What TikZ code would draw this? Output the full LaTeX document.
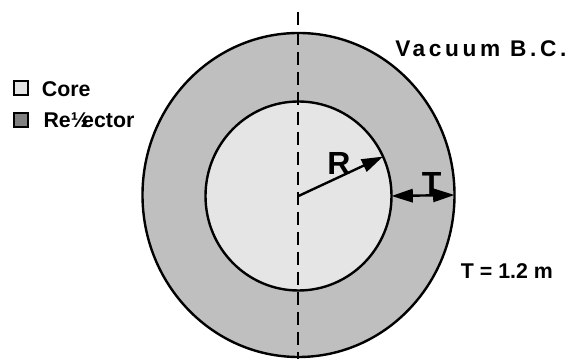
\documentclass[tikz,border=0pt]{standalone}
\usepackage{fontspec}
\setmainfont{Liberation Sans}
\usetikzlibrary{arrows.meta,shapes.geometric}
\definecolor{corefill}{gray}{0.9}
\definecolor{reflfill}{gray}{0.75}
\definecolor{refldark}{gray}{0.5}

\begin{document}
\begin{tikzpicture}[
  x=0.75pt, y=-0.75pt,
  every node/.style={font=\bfseries\fontsize{16}{19}\selectfont, inner sep=0pt},
  region/.style={draw, ellipse, line width=1.8pt, outer sep=0pt},
  swatch/.style={draw, line width=1.5pt, minimum size=10.5pt},
  >={Triangle[length=16pt,width=10pt]},
  arr/.style={->, line width=1.8pt},
  dimlabel/.style={font=\bfseries\fontsize{24}{28}\selectfont},
]
  \useasboundingbox (0,0) rectangle (568,359);

  % Reflector and core regions
  \node[region, fill=reflfill, minimum width=234pt, minimum height=243pt] (refl) at (298.5,195) {};
  \node[region, fill=corefill, minimum width=139.5pt, minimum height=141.75pt] (core) at (298.5,196) {};

  % Symmetry axis
  \coordinate (axtop) at (298,12);
  \coordinate (axbot) at (298,359);
  \draw[line width=1.8pt, dash pattern=on 10pt off 5pt] (axtop) -- (axbot);

  % Radius and reflector thickness
  \draw[arr] (core.center) -- (core.25);
  \draw[arr, <->] (core.east) -- (refl.east);
  \node[dimlabel, anchor=base west] (rlab) at (327,175) {R};
  \node[dimlabel, anchor=base] (tlab) at (431.7,195) {T};

  % Legend
  \node[swatch, fill=corefill] (corebox) at (20.5,88.3) {};
  \node[swatch, fill=refldark] (reflbox) at (20.5,120) {};
  \node[anchor=base west] (corelab) at (41.7,97) {Core};
  \node[anchor=base west] (refllab) at (43.3,128) {Re½\kern-0.3em ector};

  % Boundary condition and thickness value
  \node[anchor=base west, font=\bfseries\fontsize{17}{20}\selectfont\addfontfeatures{LetterSpace=16}] (vac) at (395,56.7) {Vacuum B.C.};
  \node[anchor=base west] (tval) at (460.7,279) {T = 1.2 m};
\end{tikzpicture}
\end{document}
